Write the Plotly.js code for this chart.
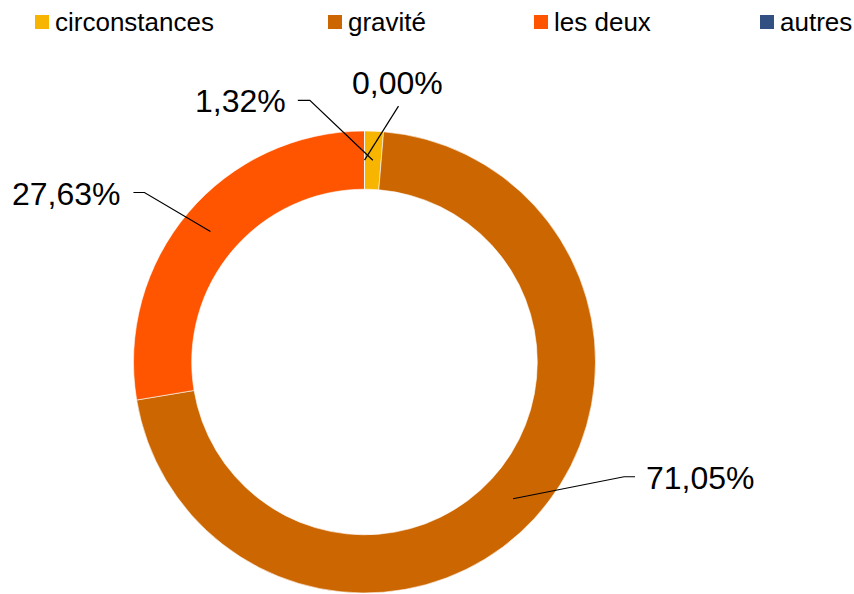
<!DOCTYPE html>
<html>
<head>
<meta charset="utf-8">
<script src="https://cdn.plot.ly/plotly-3.0.1.min.js"></script>
<style>html,body{margin:0;padding:0;background:#fff;}#chart{width:854px;height:594px;}</style>
</head>
<body>
<div id="chart"></div>
<script>
// ---- data ----
const categories = ['circonstances', 'gravité', 'les deux', 'autres'];
const counts = [1, 54, 21, 0];
const colors = ['#F7B500', '#CC6600', '#FF5500', '#335083'];

// ---- layout constants ----
const W = 854, H = 594;
const CX = 364.5, CY = 362, R = 231, HOLE = 0.748;
const FONT = 'Liberation Sans, Arial, Helvetica, sans-serif';
// label elbow offsets (pixels) relative to the slice mid-ring point
const labelOffsets = [
  {dx: -63, dy: -60, stub: -12, anchor: 'right'},
  {dx: 111, dy: -22, stub: 11, anchor: 'left'},
  {dx: -66, dy: -39, stub: -11, anchor: 'right'},
  {dx: 34, dy: -54, stub: 0, anchor: 'bottom'}
];
const legendX = [35, 328, 534, 760];

const px = x => x / W;
const py = y => 1 - y / H;

const total = counts.reduce((a, b) => a + b, 0);
const shapes = [];
const annotations = [];

let cum = 0;
const rm = R * (1 + HOLE) / 2;
counts.forEach((v, i) => {
  const mid = (cum + v / 2) / total;
  cum += v;
  const th = 2 * Math.PI * mid;
  const ex = CX + rm * Math.sin(th), ey = CY - rm * Math.cos(th);
  const o = labelOffsets[i];
  const kx = ex + o.dx, ky = ey + o.dy;
  const sx = kx + o.stub, sy = ky;
  shapes.push({
    type: 'path', xref: 'paper', yref: 'paper',
    path: `M ${px(ex)},${py(ey)} L ${px(kx)},${py(ky)} L ${px(sx)},${py(sy)}`,
    line: {color: '#000', width: 1.2}
  });
  const txt = (v / total * 100).toFixed(2).replace('.', ',') + '%';
  let a = {text: txt, showarrow: false, xref: 'paper', yref: 'paper',
           font: {family: FONT, size: 32, color: '#000'}};
  if (o.anchor === 'right') {
    Object.assign(a, {x: px(sx - 10), y: py(sy + 1), xanchor: 'right', yanchor: 'middle'});
  } else if (o.anchor === 'left') {
    Object.assign(a, {x: px(sx + 9), y: py(sy + 1), xanchor: 'left', yanchor: 'middle'});
  } else {
    Object.assign(a, {x: px(kx - 1), y: py(ky - 3), xanchor: 'center', yanchor: 'bottom'});
  }
  annotations.push(a);
});

// custom legend
categories.forEach((c, i) => {
  shapes.push({
    type: 'rect', xref: 'paper', yref: 'paper',
    x0: px(legendX[i]), x1: px(legendX[i] + 14), y0: py(15), y1: py(29),
    fillcolor: colors[i], line: {width: 0}
  });
  annotations.push({
    text: c, showarrow: false, xref: 'paper', yref: 'paper', borderpad: 0,
    x: px(legendX[i] + 19), y: py(22), xanchor: 'left', yanchor: 'middle',
    font: {family: FONT, size: 26, color: '#000'}
  });
});

const trace = {
  type: 'pie',
  labels: categories,
  values: counts,
  sort: false,
  direction: 'clockwise',
  rotation: 0,
  hole: HOLE,
  textinfo: 'none',
  marker: {colors: colors, line: {color: '#ffffff', width: 0.6}},
  domain: {x: [px(CX - R), px(CX + R)], y: [py(CY + R), py(CY - R)]},
  showlegend: false
};

const layout = {
  width: W, height: H,
  margin: {l: 0, r: 0, t: 0, b: 0},
  paper_bgcolor: '#fff',
  showlegend: false,
  shapes: shapes,
  annotations: annotations,
  font: {family: FONT}
};

Plotly.newPlot('chart', [trace], layout, {displayModeBar: false, staticPlot: true});
</script>
</body>
</html>
